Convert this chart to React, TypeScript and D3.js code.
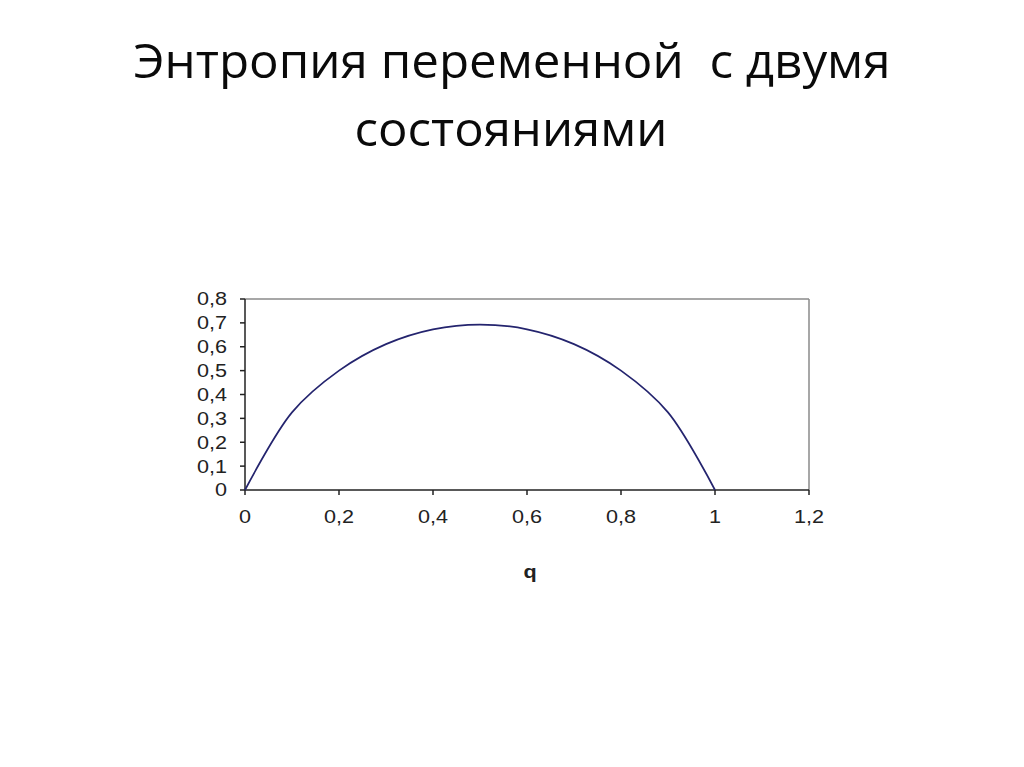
import React from "react";
import * as d3 from "d3";

const titleLines = ["Энтропия переменной  с двумя", "состояниями"];
const qValues = [0, 0.1, 0.2, 0.3, 0.4, 0.5, 0.6, 0.7, 0.8, 0.9, 1.0];
const hValues = [0, 0.325, 0.5, 0.611, 0.673, 0.693, 0.673, 0.611, 0.5, 0.325, 0];
const xTicks = [0, 0.2, 0.4, 0.6, 0.8, 1.0, 1.2];
const yTicks = [0, 0.1, 0.2, 0.3, 0.4, 0.5, 0.6, 0.7, 0.8];
const xLabel = "q";

const fmt = (v: number) => {
  const s = d3.format("~g")(+v.toFixed(2));
  return s.replace(".", ",");
};

export default function App() {
  const W = 1024, H = 767;
  const left = 245, right = 809, top = 299, bottom = 490;
  const x = d3.scaleLinear().domain([0, 1.2]).range([left, right]);
  const y = d3.scaleLinear().domain([0, 0.8]).range([bottom, top]);
  const pts = qValues.map((q, i) => [q, hValues[i]] as [number, number]);
  const line = d3
    .line<[number, number]>()
    .x((d) => x(d[0]))
    .y((d) => y(d[1]))
    .curve(d3.curveCatmullRom.alpha(0.5));
  const axisFont = "'Liberation Sans', Arial, sans-serif";
  const sx = 1.2;
  return (
    <svg
      width={W}
      height={H}
      style={{ position: "absolute", left: 0, top: 0, background: "#fff" }}
    >
      <rect x={0} y={0} width={W} height={H} fill="#fff" />
      <text
        x={512}
        y={78}
        textAnchor="middle"
        fontFamily="'Open Sans', sans-serif"
        fontSize={48}
        fill="#0a0a0a"
        textLength={757}
        lengthAdjust="spacingAndGlyphs"
        style={{ whiteSpace: "pre" }}
      >
        {titleLines[0]}
      </text>
      <text
        x={511}
        y={146}
        textAnchor="middle"
        fontFamily="'Open Sans', sans-serif"
        fontSize={48}
        fill="#0a0a0a"
        textLength={313}
        lengthAdjust="spacingAndGlyphs"
      >
        {titleLines[1]}
      </text>
      {/* plot frame: top and right gray */}
      <line x1={left} x2={right} y1={top} y2={top} stroke="#8a8a8a" strokeWidth={1.5} />
      <line x1={right} x2={right} y1={top} y2={bottom} stroke="#8a8a8a" strokeWidth={1.5} />
      {/* axes */}
      <line x1={left} x2={left} y1={top} y2={bottom} stroke="#222" strokeWidth={1.5} />
      <line x1={left} x2={right} y1={bottom} y2={bottom} stroke="#222" strokeWidth={1.5} />
      {yTicks.map((t) => (
        <g key={"y" + t}>
          <line x1={left - 5} x2={left} y1={y(t)} y2={y(t)} stroke="#222" strokeWidth={1.5} />
          <text
            transform={`translate(${left - 18},${y(t)}) scale(${sx},1)`}
            dy="0.36em"
            textAnchor="end"
            fontFamily={axisFont}
            fontSize={18}
            fill="#222"
          >
            {fmt(t)}
          </text>
        </g>
      ))}
      {xTicks.map((t) => (
        <g key={"x" + t}>
          <line x1={x(t)} x2={x(t)} y1={bottom} y2={bottom + 5} stroke="#222" strokeWidth={1.5} />
          <text
            transform={`translate(${x(t)},${bottom + 33}) scale(${sx},1)`}
            textAnchor="middle"
            fontFamily={axisFont}
            fontSize={18}
            fill="#222"
          >
            {fmt(t)}
          </text>
        </g>
      ))}
      <text
        transform={`translate(530,578) scale(${sx},1)`}
        textAnchor="middle"
        fontFamily={axisFont}
        fontSize={18}
        fontWeight="bold"
        fill="#222"
      >
        {xLabel}
      </text>
      <path d={line(pts) || ""} fill="none" stroke="#24246e" strokeWidth={1.7} />
    </svg>
  );
}
